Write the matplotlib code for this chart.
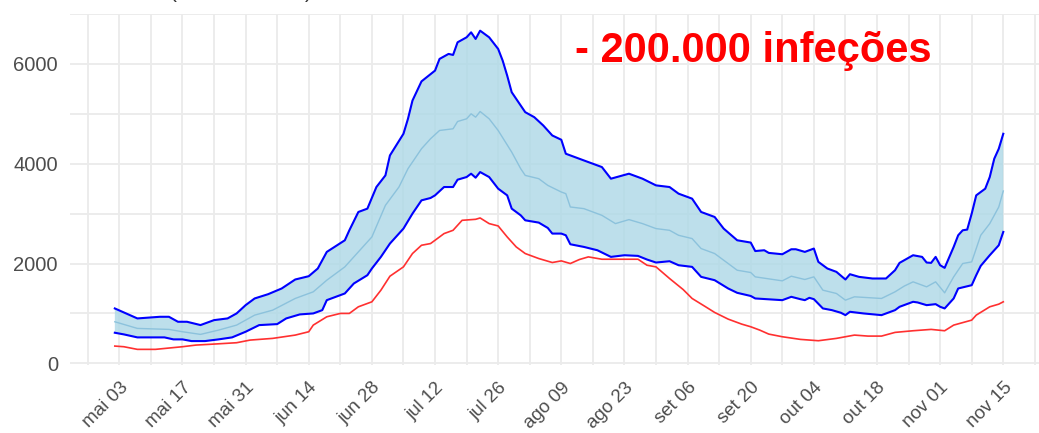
import numpy as np
import pandas as pd
import matplotlib
matplotlib.use('Agg')
import matplotlib.pyplot as plt
import matplotlib.dates as mdates

# day offsets counted from 2020-05-02 (first point of every series)
start = pd.Timestamp('2020-05-02')

upper_day = [0, 5, 10, 12, 14, 16, 19, 22, 25, 27, 29, 31, 34, 37, 40, 43, 45, 47, 51, 52,
             54, 56, 58, 60, 61, 64, 65, 66, 68, 71, 72, 74, 75, 76, 78, 79, 80, 81, 83, 85,
             86, 87, 88, 90, 91, 93, 95, 97, 99, 100, 104, 108, 110, 114, 117, 120, 123, 125, 128, 130,
             133, 135, 138, 141, 142, 144, 145, 148, 150, 151, 153, 155, 156, 158, 160, 162, 163, 165, 168, 171,
             173, 174, 177, 179, 180, 181, 182, 183, 184, 186, 187, 188, 189, 190, 191, 193, 194, 195, 196, 197]
upper_val = [1100, 900, 933, 933, 833, 833, 767, 866, 900, 1000, 1166, 1300, 1386, 1500, 1680, 1746, 1900, 2233, 2466, 2666,
             3033, 3100, 3533, 3766, 4166, 4600, 4900, 5266, 5650, 5866, 6100, 6200, 6180, 6433, 6533, 6633, 6500, 6666, 6533, 6300,
             6066, 5766, 5433, 5166, 5033, 4933, 4766, 4566, 4480, 4200, 4066, 3933, 3700, 3800, 3700, 3566, 3533, 3400, 3300, 3033,
             2933, 2700, 2466, 2420, 2250, 2266, 2213, 2186, 2286, 2286, 2233, 2300, 2033, 1900, 1833, 1680, 1786, 1733, 1700, 1700,
             1866, 2013, 2166, 2133, 2020, 2013, 2133, 1966, 1913, 2333, 2566, 2666, 2680, 3000, 3366, 3500, 3733, 4100, 4300, 4600]

lower_day = [0, 2, 5, 11, 13, 15, 17, 20, 23, 26, 29, 32, 36, 38, 41, 44, 46, 47, 51, 53,
             56, 57, 59, 61, 64, 66, 68, 70, 71, 73, 75, 76, 78, 79, 80, 81, 83, 85, 87, 88,
             90, 91, 94, 96, 97, 99, 100, 101, 104, 107, 110, 113, 116, 118, 120, 123, 125, 128, 130, 133,
             136, 138, 141, 142, 148, 150, 152, 153, 154, 155, 157, 159, 161, 162, 163, 166, 170, 173, 174, 177,
             178, 180, 182, 183, 184, 186, 187, 190, 191, 192, 194, 196, 197]
lower_val = [613, 580, 520, 520, 480, 480, 446, 446, 480, 520, 633, 766, 786, 900, 980, 1000, 1066, 1266, 1400, 1600,
             1766, 1900, 2133, 2400, 2700, 3000, 3266, 3313, 3366, 3533, 3533, 3680, 3733, 3800, 3720, 3833, 3733, 3500, 3366, 3100,
             2966, 2866, 2820, 2713, 2600, 2600, 2566, 2386, 2333, 2266, 2133, 2166, 2153, 2080, 2020, 2046, 1966, 1933, 1733, 1666,
             1500, 1413, 1350, 1300, 1266, 1333, 1286, 1266, 1313, 1286, 1100, 1066, 1013, 966, 1033, 1000, 966, 1066, 1133, 1233,
             1220, 1166, 1186, 1133, 1100, 1300, 1500, 1566, 1766, 1953, 2166, 2366, 2633]

mid_day = [0, 5, 12, 15, 19, 23, 27, 31, 35, 40, 44, 47, 51, 55, 57, 60, 63, 65, 66, 68,
           70, 72, 75, 76, 78, 79, 80, 81, 83, 85, 88, 90, 91, 94, 96, 99, 100, 101, 104, 108,
           111, 114, 117, 120, 123, 125, 128, 130, 133, 136, 138, 141, 142, 148, 150, 153, 155, 157, 160, 162,
           164, 170, 173, 175, 177, 180, 182, 184, 186, 188, 190, 192, 194, 196, 197]
mid_val = [833, 700, 680, 633, 580, 666, 766, 966, 1066, 1300, 1433, 1666, 1933, 2333, 2533, 3166, 3533, 3900, 4033, 4300,
           4500, 4666, 4700, 4846, 4900, 5000, 4933, 5046, 4900, 4666, 4233, 3900, 3766, 3700, 3566, 3433, 3400, 3133, 3100, 2966,
           2800, 2880, 2800, 2700, 2666, 2566, 2500, 2300, 2200, 2000, 1866, 1820, 1733, 1653, 1746, 1680, 1733, 1466, 1400, 1266,
           1333, 1300, 1433, 1546, 1633, 1533, 1633, 1413, 1733, 2000, 2033, 2566, 2800, 3133, 3453]

red_day = [0, 2, 5, 9, 15, 18, 22, 27, 30, 35, 40, 43, 44, 47, 50, 52, 54, 57, 59, 61,
           64, 66, 68, 70, 71, 73, 75, 77, 80, 81, 83, 85, 87, 89, 91, 94, 97, 99, 101, 103,
           105, 108, 116, 118, 120, 123, 126, 128, 131, 133, 136, 139, 141, 143, 145, 148, 152, 156, 160, 164,
           167, 170, 173, 177, 181, 184, 186, 190, 191, 194, 196, 197]
red_val = [346, 333, 280, 280, 333, 366, 386, 413, 466, 500, 566, 633, 766, 933, 1000, 1000, 1133, 1233, 1466, 1746,
           1933, 2200, 2366, 2400, 2466, 2600, 2666, 2866, 2886, 2913, 2800, 2753, 2533, 2333, 2200, 2100, 2020, 2053, 2000, 2080,
           2133, 2086, 2086, 1966, 1933, 1700, 1480, 1300, 1133, 1020, 886, 786, 733, 666, 586, 533, 480, 453, 500, 566,
           546, 546, 620, 653, 680, 653, 766, 866, 966, 1133, 1186, 1233]

tick_dates = pd.date_range('2020-05-03', '2020-11-15', freq='14D')
tick_labels = ['mai 03', 'mai 17', 'mai 31', 'jun 14', 'jun 28', 'jul 12', 'jul 26', 'ago 09',
               'ago 23', 'set 06', 'set 20', 'out 04', 'out 18', 'nov 01', 'nov 15']


def to_dates(days):
    return start + pd.to_timedelta(days, unit='D')


x_up, x_low, x_mid, x_red = (to_dates(d) for d in (upper_day, lower_day, mid_day, red_day))

W, H = 1039, 433
fig = plt.figure(figsize=(W / 100, H / 100), dpi=100)
ax = fig.add_axes([70.4 / W, (H - 365.3) / H, 977.3 / W, (365.3 - 14) / H])

# ribbon between upper and lower bounds
poly_x = np.concatenate([mdates.date2num(x_up), mdates.date2num(x_low)[::-1]])
poly_y = np.concatenate([upper_val, lower_val[::-1]])
ax.fill(poly_x, poly_y, color='#add8e6', alpha=0.8, lw=0, zorder=2)

ax.plot(x_mid, mid_val, color='#8cc2dc', lw=1.0, zorder=3)
ax.plot(x_up, upper_val, color='#0000ff', lw=1.5, zorder=4)
ax.plot(x_low, lower_val, color='#0000ff', lw=1.5, zorder=4)
ax.plot(x_red, red_val, color='#ff3030', lw=1.2, zorder=4)

# ggplot-like 5% expansion
x0, x1 = mdates.date2num(start), mdates.date2num(to_dates([197])[0])
ax.set_xlim(x0 - 0.05 * (x1 - x0), x1 + 0.05 * (x1 - x0))
ymin = min(min(red_val), min(lower_val))
ymax = max(upper_val)
ax.set_ylim(ymin - 0.05 * (ymax - ymin), ymax + 0.05 * (ymax - ymin))

ax.set_xticks(tick_dates)
ax.set_xticklabels(tick_labels, rotation=45, ha='right', va='top', rotation_mode='anchor')
ax.set_xticks(pd.date_range('2020-04-26', '2020-11-22', freq='14D'), minor=True)
ax.set_yticks([0, 2000, 4000, 6000])
ax.set_yticks([1000, 3000, 5000, 7000], minor=True)

ax.grid(True, which='both', color='#ebebeb', lw=1.3, zorder=0)
ax.set_axisbelow(True)
for s in ax.spines.values():
    s.set_visible(False)
ax.tick_params(which='both', length=0)
ax.tick_params(axis='y', pad=9, labelsize=14.5, labelcolor='#4d4d4d')
ax.tick_params(axis='x', pad=10, labelsize=13.5, labelcolor='#4d4d4d')
for lab in ax.get_xticklabels() + ax.get_yticklabels():
    lab.set_fontfamily('Liberation Sans')

fig.text(575 / W, (H - 61.7) / H, '- 200.000 infeções', color='#ff0000', fontsize=30,
         fontweight='bold', family='Liberation Sans', ha='left', va='baseline')

# bits of the cropped title above the panel
fig.text(170 / W, (H + 1.5) / H, '(', color='#333333', fontsize=15, family='Liberation Sans', va='baseline')
fig.text(305 / W, (H + 1.5) / H, ')', color='#333333', fontsize=15, family='Liberation Sans', va='baseline')

fig.savefig('out.png', dpi=100)
